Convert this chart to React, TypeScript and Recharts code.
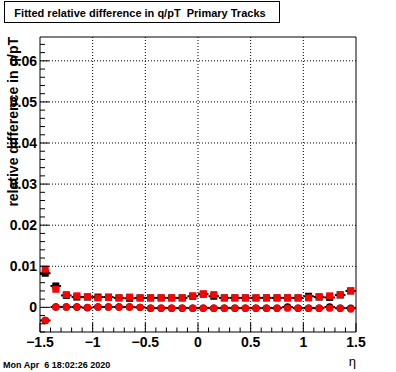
import React from "react";
import {
  ComposedChart,
  Scatter,
  XAxis,
  YAxis,
  ReferenceLine,
  ErrorBar,
} from "recharts";

// eta bin centres
const eta = [
  -1.45, -1.35, -1.25, -1.15, -1.05, -0.95, -0.85, -0.75, -0.65, -0.55,
  -0.45, -0.35, -0.25, -0.15, -0.05, 0.05, 0.15, 0.25, 0.35, 0.45,
  0.55, 0.65, 0.75, 0.85, 0.95, 1.05, 1.15, 1.25, 1.35, 1.45,
];
const binHalfWidth = 0.05;

// relative difference, black (reference) squares
const blackSquares = [
  0.0083, 0.0052, 0.0029, 0.0025, 0.0025, 0.0025, 0.0025, 0.0023, 0.0022, 0.0023,
  0.0023, 0.0023, 0.0023, 0.0023, 0.0027, 0.0032, 0.0027, 0.0023, 0.0023, 0.0023,
  0.0023, 0.0023, 0.0023, 0.0023, 0.0023, 0.0027, 0.0025, 0.0024, 0.003, 0.004,
];
// red squares
const redSquares = [
  0.0093, 0.0044, 0.0031, 0.0028, 0.0026, 0.0023, 0.0024, 0.0023, 0.0025, 0.0023,
  0.0023, 0.0023, 0.0023, 0.0023, 0.0028, 0.0033, 0.0031, 0.0023, 0.0023, 0.0023,
  0.0023, 0.0023, 0.0023, 0.0023, 0.0023, 0.0023, 0.0026, 0.0028, 0.0031, 0.004,
];
// black circles
const blackCircles = [
  -0.0032, 0.0001, 0.0001, 0.0001, -0.0001, 0.0001, 0.0001, 0.0001, 0.0001, 0.0,
  -0.0002, -0.0002, -0.0002, -0.0002, -0.0002, -0.0002, -0.0002, -0.0002, -0.0002, -0.0002,
  -0.0002, -0.0002, -0.0002, 0.0001, -0.0002, -0.0002, -0.0002, 0.0001, -0.0002, -0.0002,
];
// red circles
const redCircles = [
  -0.0032, 0.0001, 0.0001, 0.0001, 0.0, 0.0001, 0.0001, 0.0001, 0.0001, 0.0,
  -0.0002, -0.0002, -0.0002, -0.0002, -0.0002, -0.0002, -0.0002, -0.0002, -0.0002, -0.0002,
  -0.0002, -0.0002, -0.0002, -0.0002, -0.0002, -0.0002, -0.0002, -0.0002, -0.0002, -0.0004,
];

const xMajorTicks = [-1.5, -1, -0.5, 0, 0.5, 1, 1.5];
const xMinorTicks = [
  -1.4, -1.3, -1.2, -1.1, -0.9, -0.8, -0.7, -0.6, -0.4, -0.3, -0.2, -0.1,
  0.1, 0.2, 0.3, 0.4, 0.6, 0.7, 0.8, 0.9, 1.1, 1.2, 1.3, 1.4,
];
const yMajorTicks = [0, 0.01, 0.02, 0.03, 0.04, 0.05, 0.06];
const yMinorTicks = [
  -0.006, -0.004, -0.002, 0.002, 0.004, 0.006, 0.008, 0.012, 0.014, 0.016, 0.018,
  0.022, 0.024, 0.026, 0.028, 0.032, 0.034, 0.036, 0.038, 0.042, 0.044, 0.046,
  0.048, 0.052, 0.054, 0.056, 0.058, 0.062, 0.064,
];
const xGridLines = [-1, -0.5, 0, 0.5, 1];
const yGridLines = [0, 0.01, 0.02, 0.03, 0.04, 0.05, 0.06];

const xDomain: [number, number] = [-1.5, 1.5];
const yDomain: [number, number] = [-0.006, 0.0658];

const titleText = "Fitted relative difference in q/pT  Primary Tracks";
const yTitle = "relative difference in q/pT";
const xTitle = "\u03b7";
const dateText = "Mon Apr  6 18:02:26 2020";

const mk = (vals: number[]) =>
  eta.map((x, i) => ({ x, y: vals[i], ex: binHalfWidth }));

const blackSqData = mk(blackSquares);
const redSqData = mk(redSquares);
const blackCiData = mk(blackCircles);
const redCiData = mk(redCircles);

const xAllTicks = [...xMajorTicks, ...xMinorTicks].sort((a, b) => a - b);
const yAllTicks = [...yMajorTicks, ...yMinorTicks].sort((a, b) => a - b);
const isMajor = (list: number[], v: number) => list.some((m) => Math.abs(m - v) < 1e-9);

const FONT = "'Liberation Sans', Arial, Helvetica, sans-serif";

const fmtX = (v: number) => {
  const s = String(Math.abs(v));
  return v < 0 ? "\u2212" + s : s;
};
const fmtY = (v: number) => (Math.abs(v) < 1e-9 ? "0" : v.toFixed(2));

const XTick = (props: any) => {
  const { x, y, payload } = props;
  const v = payload.value;
  if (!isMajor(xMajorTicks, v)) {
    return <line x1={x} x2={x} y1={y} y2={y - 4.5} stroke="#000" strokeWidth={1} />;
  }
  return (
    <g>
      <line x1={x} x2={x} y1={y} y2={y - 9} stroke="#000" strokeWidth={1} />
      <text
        x={x}
        y={y + 15}
        textAnchor="middle"
        fontFamily={FONT}
        fontWeight="bold"
        fontSize={14}
        fill="#000"
      >
        {fmtX(v)}
      </text>
    </g>
  );
};
const YTick = (props: any) => {
  const { x, y, payload } = props;
  const v = payload.value;
  if (!isMajor(yMajorTicks, v)) {
    return <line x1={x} x2={x + 5} y1={y} y2={y} stroke="#000" strokeWidth={1} />;
  }
  return (
    <g>
      <line x1={x} x2={x + 9} y1={y} y2={y} stroke="#000" strokeWidth={1} />
      <text
        x={x - 3}
        y={y + 5}
        textAnchor="end"
        fontFamily={FONT}
        fontWeight="bold"
        fontSize={14}
        fill="#000"
      >
        {fmtY(v)}
      </text>
    </g>
  );
};

const squareShape = (color: string) => (p: any) => (
  <rect x={p.cx - 3.5} y={p.cy - 3.5} width={7} height={7} fill={color} />
);
const circleShape = (color: string) => (p: any) => (
  <circle cx={p.cx} cy={p.cy} r={3.7} fill={color} />
);

export default function App() {
  return (
    <div style={{ position: "absolute", left: 0, top: 0, width: 396, height: 372, background: "#fff" }}>
      <ComposedChart
        width={396}
        height={372}
        margin={{ top: 36, right: 39, bottom: 39, left: 39 }}
      >
        {xGridLines.map((v) => (
          <ReferenceLine key={"gx" + v} x={v} stroke="#000" strokeDasharray="1 2" strokeWidth={1} />
        ))}
        {yGridLines.map((v) => (
          <ReferenceLine key={"gy" + v} y={v} stroke="#000" strokeDasharray="1 2" strokeWidth={1} />
        ))}
        <XAxis
          dataKey="x"
          type="number"
          domain={xDomain}
          ticks={xAllTicks}
          interval={0}
          height={1}
          tickSize={0}
          tickMargin={0}
          tickLine={false}
          axisLine={{ stroke: "#000" }}
          tick={XTick}
          allowDataOverflow
        />
        <XAxis
          xAxisId="top"
          orientation="top"
          type="number"
          domain={xDomain}
          height={1}
          tick={false}
          tickLine={false}
          axisLine={{ stroke: "#000" }}
          allowDataOverflow
        />
        <YAxis
          dataKey="y"
          type="number"
          domain={yDomain}
          ticks={yAllTicks}
          interval={0}
          width={1}
          tickSize={0}
          tickMargin={0}
          tickLine={false}
          axisLine={{ stroke: "#000" }}
          tick={YTick}
          allowDataOverflow
        />
        <YAxis
          yAxisId="right"
          orientation="right"
          type="number"
          domain={yDomain}
          width={1}
          tick={false}
          tickLine={false}
          axisLine={{ stroke: "#000" }}
          allowDataOverflow
        />
        <Scatter
          data={blackCiData}
          dataKey="y"
          shape={circleShape("#000")}
          isAnimationActive={false}
        >
          <ErrorBar dataKey="ex" direction="x" width={0} stroke="#000" strokeWidth={2} isAnimationActive={false} />
        </Scatter>
        <Scatter
          data={blackSqData}
          dataKey="y"
          shape={squareShape("#000")}
          isAnimationActive={false}
        >
          <ErrorBar dataKey="ex" direction="x" width={0} stroke="#000" strokeWidth={2} isAnimationActive={false} />
        </Scatter>
        <Scatter
          data={redCiData}
          dataKey="y"
          shape={circleShape("#ff0000")}
          isAnimationActive={false}
        />
        <Scatter
          data={redSqData}
          dataKey="y"
          shape={squareShape("#ff0000")}
          isAnimationActive={false}
        />
      </ComposedChart>
      <svg
        width={396}
        height={372}
        style={{ position: "absolute", left: 0, top: 0, pointerEvents: "none" }}
      >
        <rect x={4.5} y={1.5} width={275} height={21} fill="#fff" stroke="#000" strokeWidth={1} />
        <text
          x={140}
          y={17}
          textAnchor="middle"
          fontFamily={FONT}
          fontWeight="bold"
          fontSize={11}
          fill="#000"
          style={{ whiteSpace: "pre" }}
        >
          {titleText}
        </text>
        <text
          transform="translate(18,37) rotate(-90)"
          textAnchor="end"
          fontFamily={FONT}
          fontWeight="bold"
          fontSize={14}
          fill="#000"
        >
          {yTitle}
        </text>
        <text
          x={356}
          y={366}
          textAnchor="end"
          fontFamily={FONT}
          fontSize={13}
          fill="#000"
        >
          {xTitle}
        </text>
        <text
          x={3}
          y={368}
          fontFamily={FONT}
          fontWeight="bold"
          fontSize={9}
          fill="#000"
          style={{ whiteSpace: "pre" }}
        >
          {dateText}
        </text>
      </svg>
    </div>
  );
}
